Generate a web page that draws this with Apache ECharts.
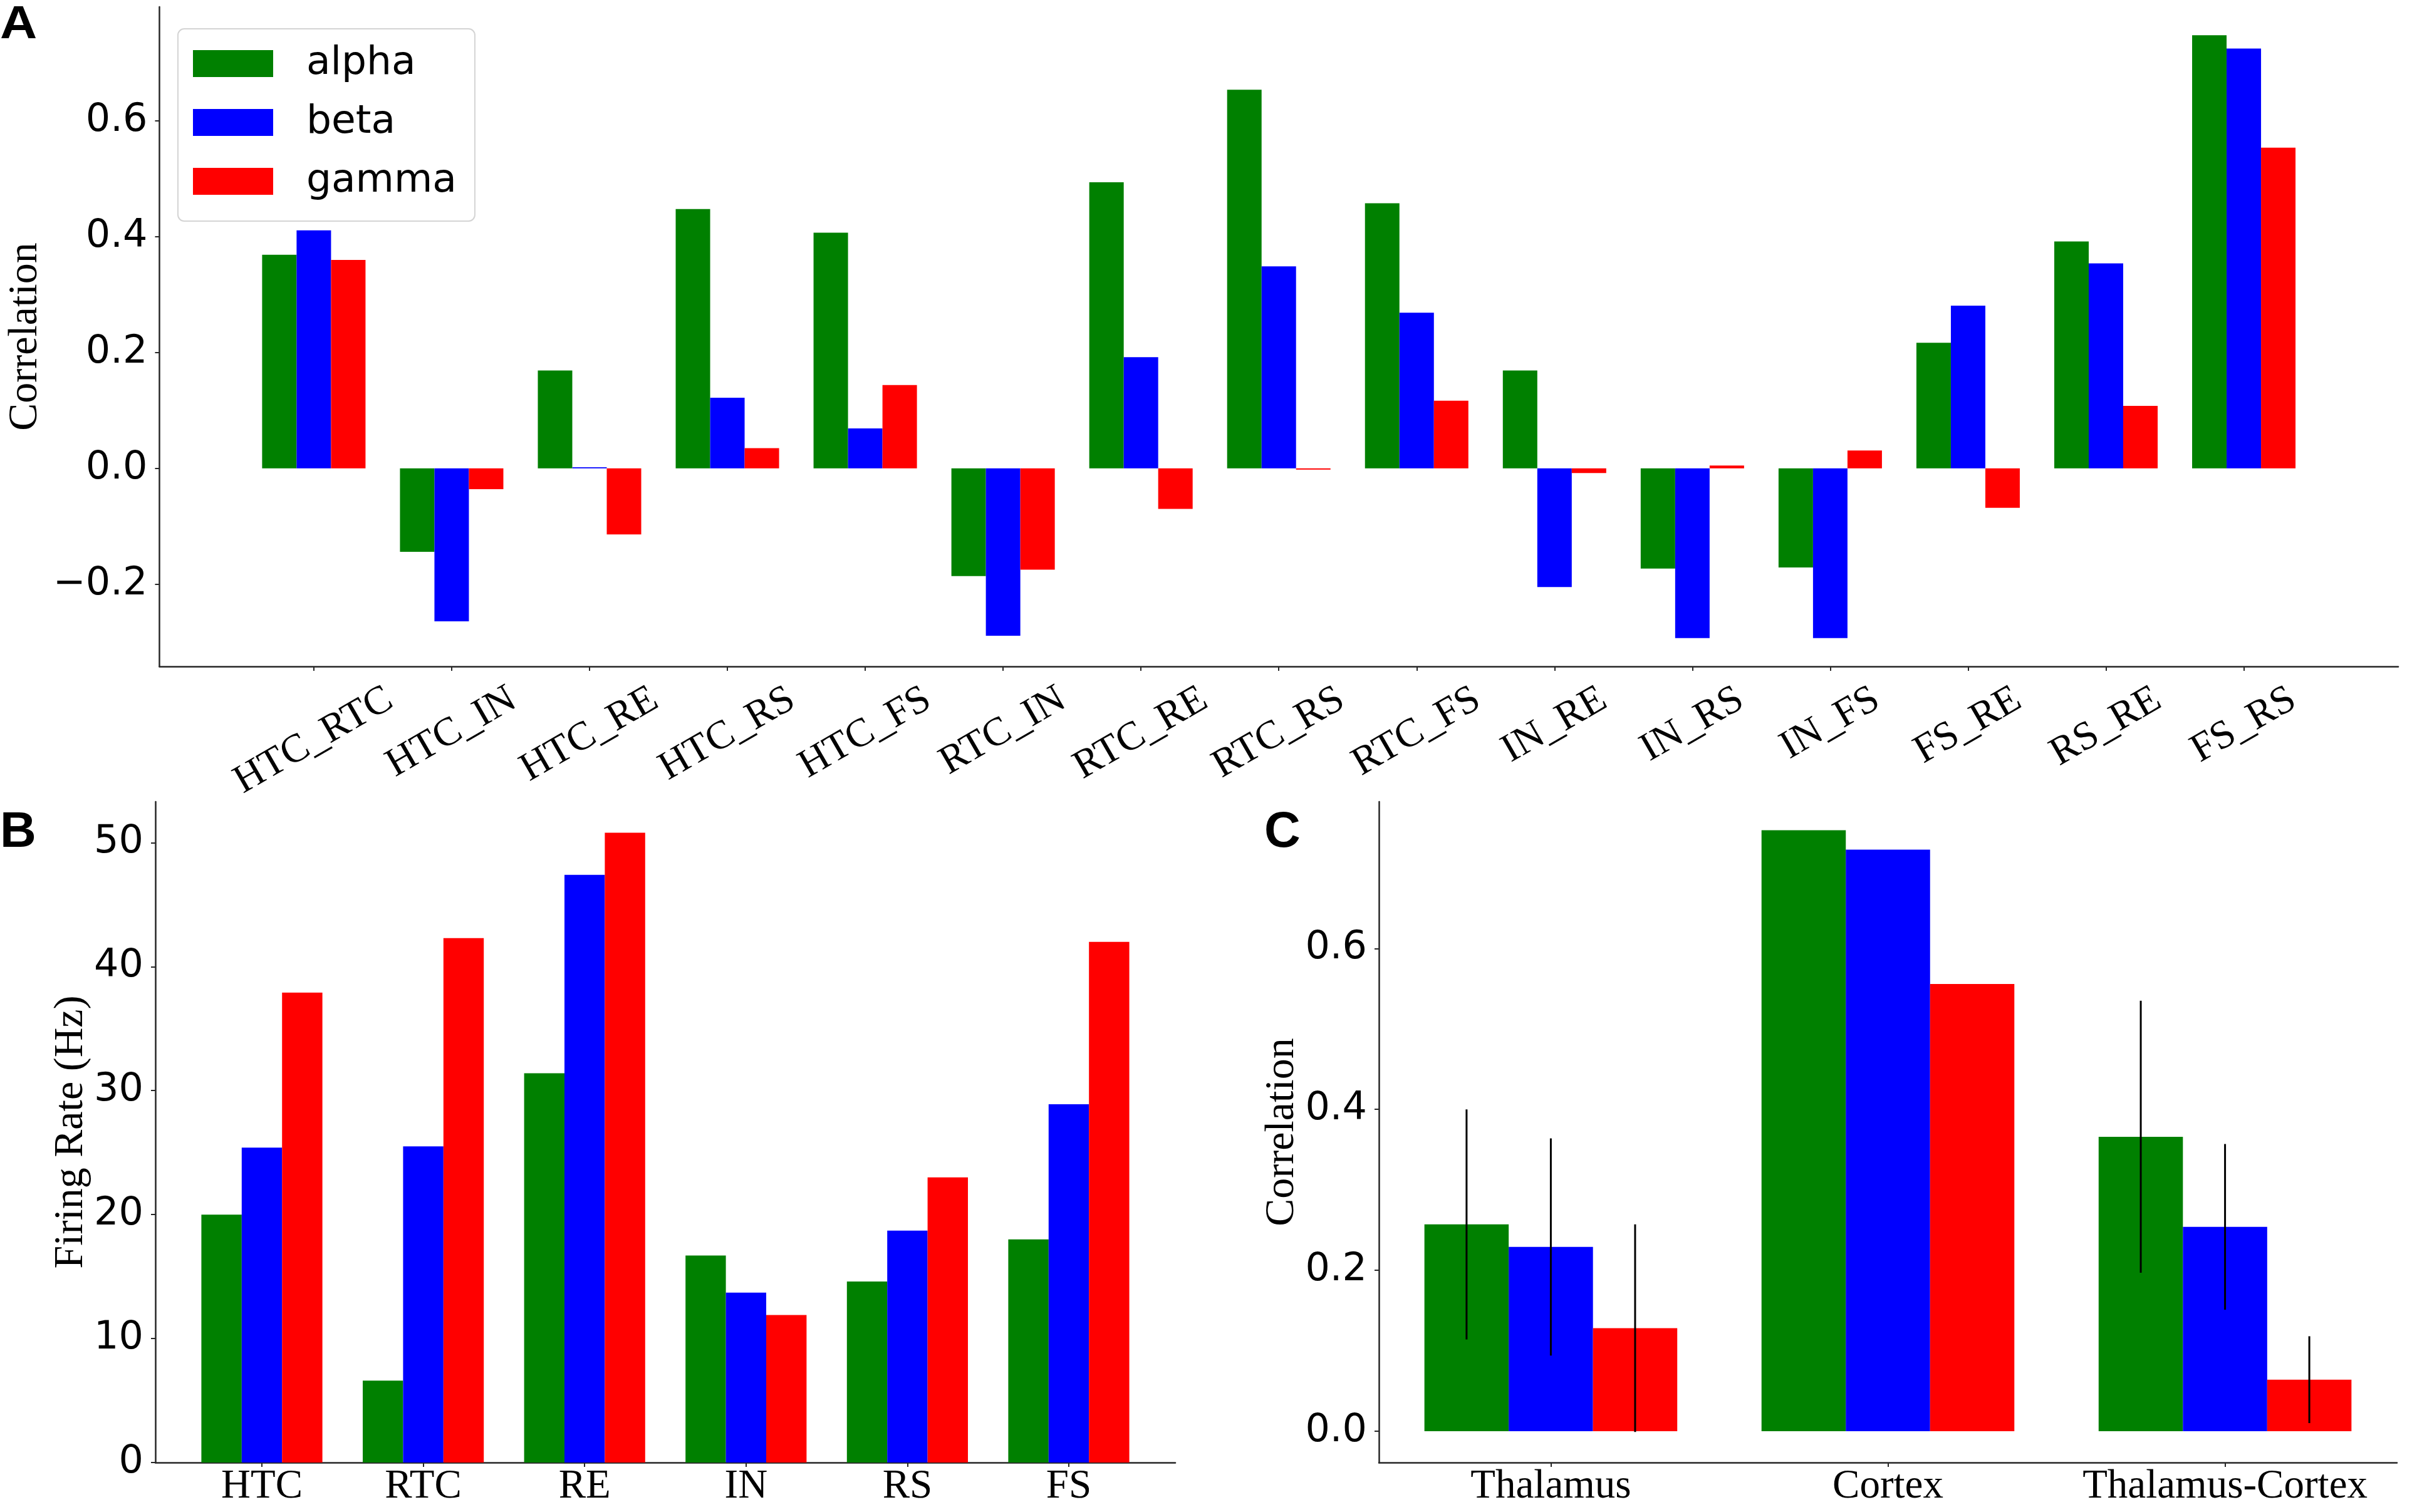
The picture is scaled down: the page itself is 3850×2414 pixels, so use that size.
<!DOCTYPE html>
<html>
<head>
<meta charset="utf-8">
<script src="https://cdn.jsdelivr.net/npm/echarts@6/dist/echarts.min.js"></script>
<style>
  html, body { margin:0; padding:0; background:#fff; }
  #chart { width:3850px; height:2414px; }
</style>
</head>
<body>
<div id="chart"></div>
<script>
// ===== Data
const bandNames  = ['alpha', 'beta', 'gamma'];
const bandColors = ['#008000', '#0000ff', '#ff0000'];

// A: correlation per pair
const pairLabels = ['HTC_RTC','HTC_IN','HTC_RE','HTC_RS','HTC_FS','RTC_IN','RTC_RE','RTC_RS','RTC_FS','IN_RE','IN_RS','IN_FS','FS_RE','RS_RE','FS_RS'];
const pairAlpha  = [0.369, -0.144, 0.169, 0.448, 0.407, -0.186, 0.494, 0.654, 0.458, 0.169, -0.173, -0.171, 0.217, 0.392, 0.748];
const pairBeta   = [0.411, -0.264, 0.002, 0.122, 0.069, -0.289, 0.192, 0.349, 0.269, -0.205, -0.293, -0.293, 0.281, 0.354, 0.725];
const pairGamma  = [0.360, -0.036, -0.114, 0.035, 0.144, -0.175, -0.070, -0.002, 0.117, -0.008, 0.005, 0.031, -0.068, 0.108, 0.554];
const pairTicks  = [-0.2, 0, 0.2, 0.4, 0.6];

// B: firing rate per cell type
const cellLabels = ['HTC','RTC','RE','IN','RS','FS'];
const rateAlpha  = [20.0, 6.6, 31.4, 16.7, 14.6, 18.0];
const rateBeta   = [25.4, 25.5, 47.4, 13.7, 18.7, 28.9];
const rateGamma  = [37.9, 42.3, 50.8, 11.9, 23.0, 42.0];
const rateTicks  = [0, 10, 20, 30, 40, 50];

// C: correlation per region, with error bars
const regionLabels = ['Thalamus','Cortex','Thalamus-Cortex'];
const regAlpha     = [0.257, 0.747, 0.366];
const regBeta      = [0.229, 0.723, 0.254];
const regGamma     = [0.128, 0.556, 0.064];
const regAlphaErr  = [0.143, 0, 0.169];
const regBetaErr   = [0.135, 0, 0.103];
const regGammaErr  = [0.129, 0, 0.054];
const regTicks     = [0, 0.2, 0.4, 0.6];

// ===== Helpers
const INK = '#262626';
const SANS = 'DejaVu Sans';
const SERIF = 'Liberation Serif';
const idx = arr => arr.map((_, i) => i);
const fmtCorr = v => (v < 0 ? '\u2212' : '') + Math.abs(v).toFixed(1);

// rotated labels: matplotlib keeps the top of every rotated box on one line,
// so each label gets its own padding to push it down by a quarter of its extra length
const ROT_FONT = 64;
const measureCtx = document.createElement('canvas').getContext('2d');
measureCtx.font = ROT_FONT + 'px "' + SERIF + '"';
const rotLen = pairLabels.map(s => measureCtx.measureText(s).width);
const rotMin = Math.min(...rotLen);
const rotRich = {};
rotLen.forEach((w, i) => {
  const dy = 0.25 * (w - rotMin);
  rotRich['r' + i] = { fontFamily:SERIF, fontSize:ROT_FONT, color:'#000', padding:[1.732 * dy, dy, 0, 0] };
});

function xAxisFor(gridIndex, labels, min, max, label){
  return {
    type:'value', gridIndex, min, max,
    axisLine:{ show:true, onZero:false, lineStyle:{ color:INK, width:2.5 } },
    axisTick:{ show:true, length:7, customValues:idx(labels), lineStyle:{ color:INK, width:2 } },
    splitLine:{ show:false },
    axisLabel:Object.assign({
      customValues:idx(labels),
      formatter: v => labels[Math.round(v)] || '',
      fontFamily:SERIF, fontSize:65, color:'#000', margin:6
    }, label || {})
  };
}

function yAxisFor(gridIndex, min, max, ticks, fmt, name, nameGap){
  return {
    type:'value', gridIndex, min, max,
    name, nameLocation:'middle', nameGap,
    nameTextStyle:{ fontFamily:SERIF, fontSize:66, color:'#000' },
    axisLine:{ show:true, onZero:false, lineStyle:{ color:INK, width:2.5 } },
    axisTick:{ show:true, length:7, customValues:ticks, lineStyle:{ color:INK, width:2 } },
    splitLine:{ show:false },
    axisLabel:{ customValues:ticks, formatter:fmt, fontFamily:SANS, fontSize:62, color:'#000', margin:19 }
  };
}

function barSeries(axis, values){
  return values.map((vals, k) => ({
    name:bandNames[k], type:'bar',
    xAxisIndex:axis, yAxisIndex:axis,
    barWidth:'25%', barGap:'0%',
    itemStyle:{ color:bandColors[k] },
    data:vals.map((v, i) => [i, v])
  }));
}

// ===== Options
const errData = [];
[regAlphaErr, regBetaErr, regGammaErr].forEach((errs, k) => {
  const vals = [regAlpha, regBeta, regGamma][k];
  errs.forEach((e, i) => { if (e > 0) errData.push([i, vals[i], e, k]); });
});

const option = {
  backgroundColor:'#fff',
  animation:false,
  textStyle:{ fontFamily:SANS },
  grid:[
    { left:250,  top:11,   width:3578, height:1053 },
    { left:248,  top:1280, width:1628, height:1055 },
    { left:2201, top:1280, width:1625, height:1055 }
  ],
  legend:{
    data:bandNames, orient:'vertical', left:284, top:46,
    icon:'rect', itemWidth:128, itemHeight:43, itemGap:31,
    padding:[24, 29, 32, 24],
    backgroundColor:'#fff', borderColor:'#d4d4d4', borderWidth:2, borderRadius:10,
    textStyle:{ fontFamily:SANS, fontSize:63, color:'#000', padding:[0, 0, 0, 48] }
  },
  xAxis:[
    xAxisFor(0, pairLabels, -1.12, 15.12, {
      rotate:30, align:'center', verticalAlign:'middle', margin:91,
      formatter: v => { const i = Math.round(v); return pairLabels[i] ? '{r' + i + '|' + pairLabels[i] + '}' : ''; },
      rich:rotRich
    }),
    xAxisFor(1, cellLabels, -0.66, 5.66),
    xAxisFor(2, regionLabels, -0.51, 2.51)
  ],
  yAxis:[
    yAxisFor(0, -0.342, 0.797, pairTicks, fmtCorr, 'Correlation', 170),
    yAxisFor(1, 0, 53.3, rateTicks, v => String(v), 'Firing Rate (Hz)', 100),
    yAxisFor(2, -0.039, 0.7825, regTicks, fmtCorr, 'Correlation', 114)
  ],
  series:[
    ...barSeries(0, [pairAlpha, pairBeta, pairGamma]),
    ...barSeries(1, [rateAlpha, rateBeta, rateGamma]),
    ...barSeries(2, [regAlpha, regBeta, regGamma]),
    {
      type:'custom', xAxisIndex:2, yAxisIndex:2, z:10, silent:true,
      data:errData,
      renderItem:(params, api) => {
        const x = api.value(0) + (api.value(3) - 1) * 0.25;
        const v = api.value(1), e = api.value(2);
        const p1 = api.coord([x, v - e]);
        const p2 = api.coord([x, v + e]);
        return { type:'line', shape:{ x1:p1[0], y1:p1[1], x2:p2[0], y2:p2[1] },
                 style:{ stroke:'#000', lineWidth:3 } };
      }
    }
  ],
  graphic:[
    { type:'text', x:0,    y:4,    scaleY:0.9, style:{ text:'A', font:'bold 82px "Liberation Sans"', fill:'#000', verticalAlign:'top' } },
    { type:'text', x:0,    y:1290, style:{ text:'B', font:'bold 80px "Liberation Sans"', fill:'#000', verticalAlign:'top' } },
    { type:'text', x:2018, y:1290, style:{ text:'C', font:'bold 80px "Liberation Sans"', fill:'#000', verticalAlign:'top' } }
  ]
};

const chart = echarts.init(document.getElementById('chart'));
chart.setOption(option);
</script>
</body>
</html>
